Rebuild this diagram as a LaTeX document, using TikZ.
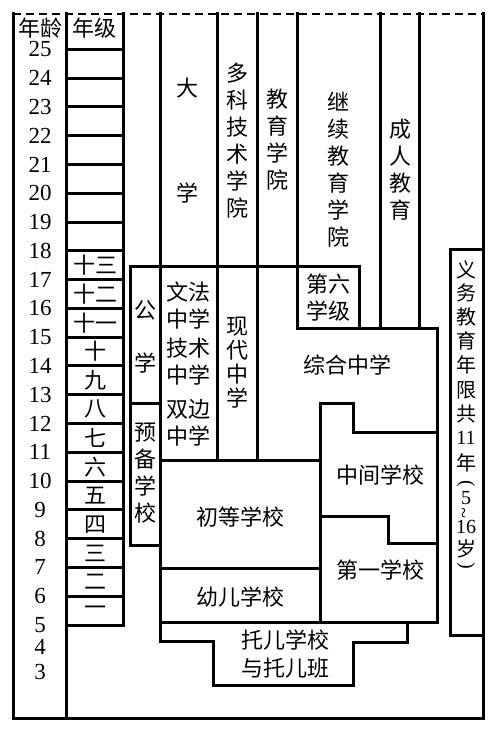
\documentclass[tikz,border=0pt]{standalone}
\usepackage{fontspec}
\setmainfont{Liberation Serif}
\newfontfamily\cjk{Noto Sans CJK SC}
\usepackage{graphicx}
\newcommand{\vlparen}{\rotatebox[origin=c]{-90}{\rmfamily(}}
\newcommand{\vrparen}{\rotatebox[origin=c]{-90}{\rmfamily)}}
\newcommand{\vtilde}{\rotatebox[origin=c]{90}{\rmfamily\textasciitilde}}
\tikzset{>=latex}
\tikzset{
  zh/.style = {font=\cjk\fontsize{22}{27}\selectfont, align=center, inner sep=0pt},
  age/.style = {font=\fontsize{23}{24}\selectfont, inner sep=0pt},
  wall/.style = {line width=3pt, line cap=rect, line join=miter}
}

\begin{document}
\begin{tikzpicture}[x=1pt, y=-1pt]
\useasboundingbox (0,0) rectangle (500,743);
% frame and columns
\draw[line width=2pt, dash pattern=on 8pt off 5pt] (13,14) -- (483,14);
\draw[wall] (13,14) -- (13,718) -- (483,718) -- (483,14);
\draw[wall] (66,14) -- (66,718);
\draw[wall] (123,14) -- (123,625);
\foreach \i in {0,...,20}
  \draw[wall] (66,{49.3+\i*28.785}) -- (123,{49.3+\i*28.785});
% higher education
\draw[wall] (160,14) -- (160,641);
\draw[wall] (217,14) -- (217,460);
\draw[wall] (257,14) -- (257,460);
\draw[wall] (297,14) -- (297,328);
\draw[wall] (380,14) -- (380,328);
\draw[wall] (419,14) -- (419,328);
% secondary
\draw[wall] (130,545) -- (130,266) -- (359,266) -- (359,328);
\draw[wall] (130,545) -- (160,545);
\draw[wall] (130,403) -- (160,403);
\draw[wall] (297,328) -- (437,328) -- (437,622);
\draw[wall] (160,460) -- (320,460);
\draw[wall] (320,622) -- (320,403) -- (353,403) -- (353,432) -- (437,432);
\draw[wall] (320,516) -- (388,516) -- (388,543) -- (437,543);
\draw[wall] (160,568) -- (320,568);
% nursery
\draw[wall] (160,622) -- (437,622);
\draw[wall] (160,641) -- (213,641) -- (213,685) -- (353,685) -- (353,642) -- (407,642) -- (407,622);
% compulsory
\draw[wall] (483,249) -- (450,249) -- (450,635) -- (483,635);

% ages and grades
\node[zh] (agehead) at (40,28) {年龄};
\node[zh] (gradehead) at (94,28) {年级};
\foreach \a in {25,24,...,5}
  \node[age] (age\a) at (40,{49.3+(25-\a)*28.785}) {\a};
\node[age] (age4) at (40,647) {4};
\node[age] (age3) at (40,672) {3};
\foreach \g [count=\i from 7] in {十三,十二,十一,十,九,八,七,六,五,四,三,二,一}
  \node[zh] (grade\i) at (95,{49.3+(\i+0.5)*28.785}) {\g};

% schools
\node[zh] (daxue1) at (187,88) {大};
\node[zh] (daxue2) at (187,193) {学};
\node[zh] (poly) at (237,141) {多\\科\\技\\术\\学\\院};
\node[zh] (edu) at (277,140) {教\\育\\学\\院};
\node[zh] (cont) at (338,170) {继\\续\\教\\育\\学\\院};
\node[zh] (adult) at (400,170) {成\\人\\教\\育};
\node[zh] (public1) at (145,310) {公};
\node[zh] (public2) at (145,363) {学};
\node[zh] (prep) at (145,473) {预\\备\\学\\校};
\node[zh] (grammar) at (188,306) {文法\\中学};
\node[zh] (tech) at (188,362) {技术\\中学};
\node[zh] (bilat) at (188,423) {双边\\中学};
\node[zh, font=\cjk\fontsize{22}{24}\selectfont] (modern) at (237,363) {现\\代\\中\\学};
\node[zh] (sixth) at (328,298) {第六\\学级};
\node[zh] (compre) at (347,365) {综合中学};
\node[zh] (middle) at (380,475) {中间学校};
\node[zh] (first) at (380,570) {第一学校};
\node[zh] (primary) at (240,517) {初等学校};
\node[zh] (infant) at (240,597) {幼儿学校};
\node[zh, font=\cjk\fontsize{22}{28}\selectfont] (nursery) at (285,654) {托儿学校\\与托儿班};
\foreach \t/\y in {义/270,务/293,教/317,育/341,年/365,限/390,共/414,\rmfamily 11/438,年/463,\vlparen/485,\rmfamily 5/498,\vtilde/513,\rmfamily 16/527,岁/549,\vrparen/567}
  \node[zh, font=\cjk\fontsize{20}{24}\selectfont] (duty\y) at (466,\y) {\t};
\end{tikzpicture}
\end{document}
